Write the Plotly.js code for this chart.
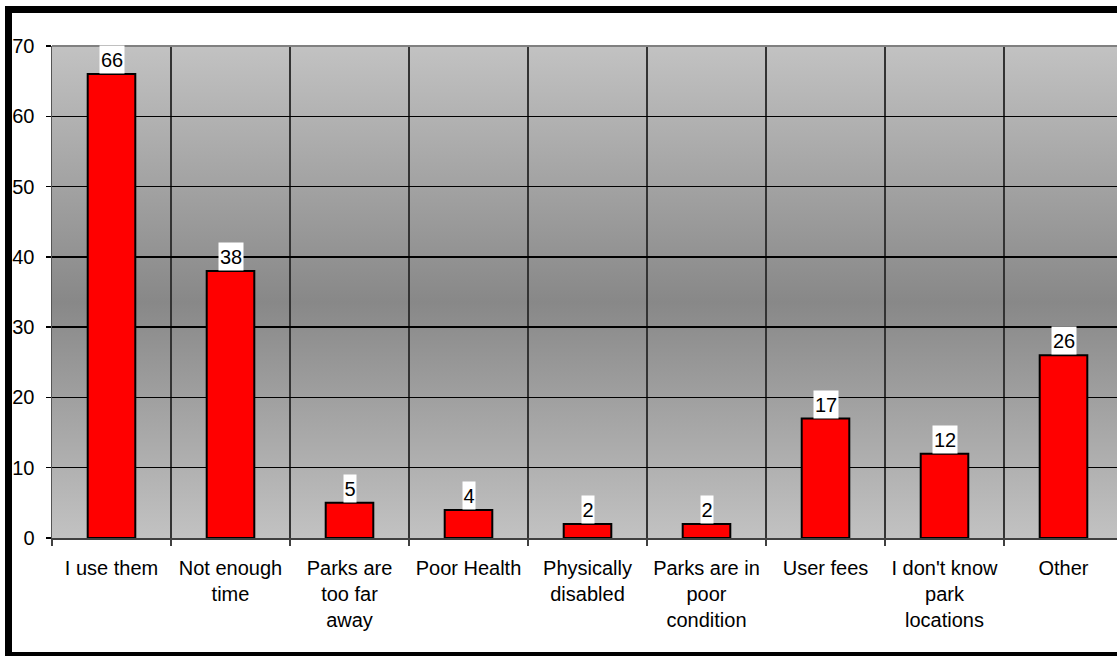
<!DOCTYPE html>
<html>
<head>
<meta charset="utf-8">
<script src="https://cdn.plot.ly/plotly-3.0.1.min.js"></script>
<style>
  html, body { margin: 0; padding: 0; background: #ffffff; overflow: hidden; }
  #wrap { position: relative; width: 1117px; height: 656px; overflow: hidden; }
  #chart { position: absolute; left: 0; top: 0; }
  #frame {
    position: absolute; left: 5px; top: 6px; width: 1200px; height: 653px;
    border: 7px solid #000000; box-sizing: border-box; pointer-events: none;
  }
</style>
</head>
<body>
<div id="wrap">
  <div id="chart"></div>
  <div id="frame"></div>
</div>
<script>
// Reasons given for not using the parks
const categories = [
  "I use them",
  "Not enough<br>time",
  "Parks are<br>too far<br>away",
  "Poor Health",
  "Physically<br>disabled",
  "Parks are in<br>poor<br>condition",
  "User fees",
  "I don't know<br>park<br>locations",
  "Other"
];
const responses = [66, 38, 5, 4, 2, 2, 17, 12, 26];
const yTicks = [0, 10, 20, 30, 40, 50, 60, 70];

const FONT = "'Liberation Sans', Arial, sans-serif";

// Vertical grey gradient behind the plot area: light at the edges, darker in the middle
const gradSvg =
  '<svg xmlns="http://www.w3.org/2000/svg" width="10" height="100" preserveAspectRatio="none">' +
  '<defs><linearGradient id="g" x1="0" y1="0" x2="0" y2="1">' +
  '<stop offset="0" stop-color="#c2c2c2"/>' +
  '<stop offset="0.52" stop-color="#888888"/>' +
  '<stop offset="1" stop-color="#c2c2c2"/>' +
  '</linearGradient></defs>' +
  '<rect width="10" height="100" fill="url(#g)"/></svg>';
const gradUrl = 'data:image/svg+xml;base64,' + btoa(gradSvg);

const trace = {
  type: 'bar',
  x: categories,
  y: responses,
  marker: { color: '#ff0000', line: { color: '#000000', width: 2 } },
  hoverinfo: 'x+y'
};

// Value labels on tight white boxes above each bar
const labels = categories.map((c, i) => {
  const txt = String(responses[i]);
  return {
    x: c,
    y: responses[i],
    xref: 'x',
    yref: 'y',
    text: txt,
    showarrow: false,
    yanchor: 'bottom',
    width: 12 * txt.length,
    height: 27,
    bgcolor: '#ffffff',
    borderpad: 0,
    font: { family: FONT, size: 20, color: '#000000' }
  };
});

const layout = {
  width: 1140,
  height: 656,
  margin: { l: 52, r: 17, t: 46, b: 118 },
  paper_bgcolor: 'rgba(0,0,0,0)',
  plot_bgcolor: 'rgba(0,0,0,0)',
  showlegend: false,
  bargap: 0.6,
  font: { family: FONT, size: 20, color: '#000000' },
  images: [{
    source: gradUrl,
    xref: 'paper', yref: 'paper',
    x: 0, y: 1, sizex: 1, sizey: 1,
    xanchor: 'left', yanchor: 'top',
    sizing: 'stretch', layer: 'below'
  }],
  xaxis: {
    type: 'category',
    tickson: 'boundaries',
    showgrid: true,
    gridcolor: '#333333',
    gridwidth: 1.5,
    ticks: 'outside',
    ticklen: 6,
    tickcolor: '#404040',
    tickwidth: 1.5,
    showline: true,
    linecolor: '#404040',
    linewidth: 2,
    tickangle: 0,
    ticklabelstandoff: 11,
    tickfont: { family: FONT, size: 20, color: '#000000' },
    fixedrange: true
  },
  yaxis: {
    range: [0, 70],
    tickvals: yTicks,
    ticktext: yTicks.map(String),
    showgrid: true,
    gridcolor: '#000000',
    gridwidth: 1.5,
    zeroline: false,
    ticks: 'outside',
    ticklen: 5,
    tickcolor: '#000000',
    tickwidth: 1.5,
    showline: true,
    linecolor: '#555555',
    linewidth: 1.5,
    ticklabelstandoff: 7,
    tickfont: { family: FONT, size: 20, color: '#000000' },
    fixedrange: true
  },
  shapes: [{
    type: 'line', xref: 'paper', yref: 'paper',
    x0: 0, x1: 1, y0: 1, y1: 1,
    line: { color: '#808080', width: 2 }
  }],
  annotations: labels
};

Plotly.newPlot('chart', [trace], layout, { displayModeBar: false, staticPlot: true });
</script>
</body>
</html>
